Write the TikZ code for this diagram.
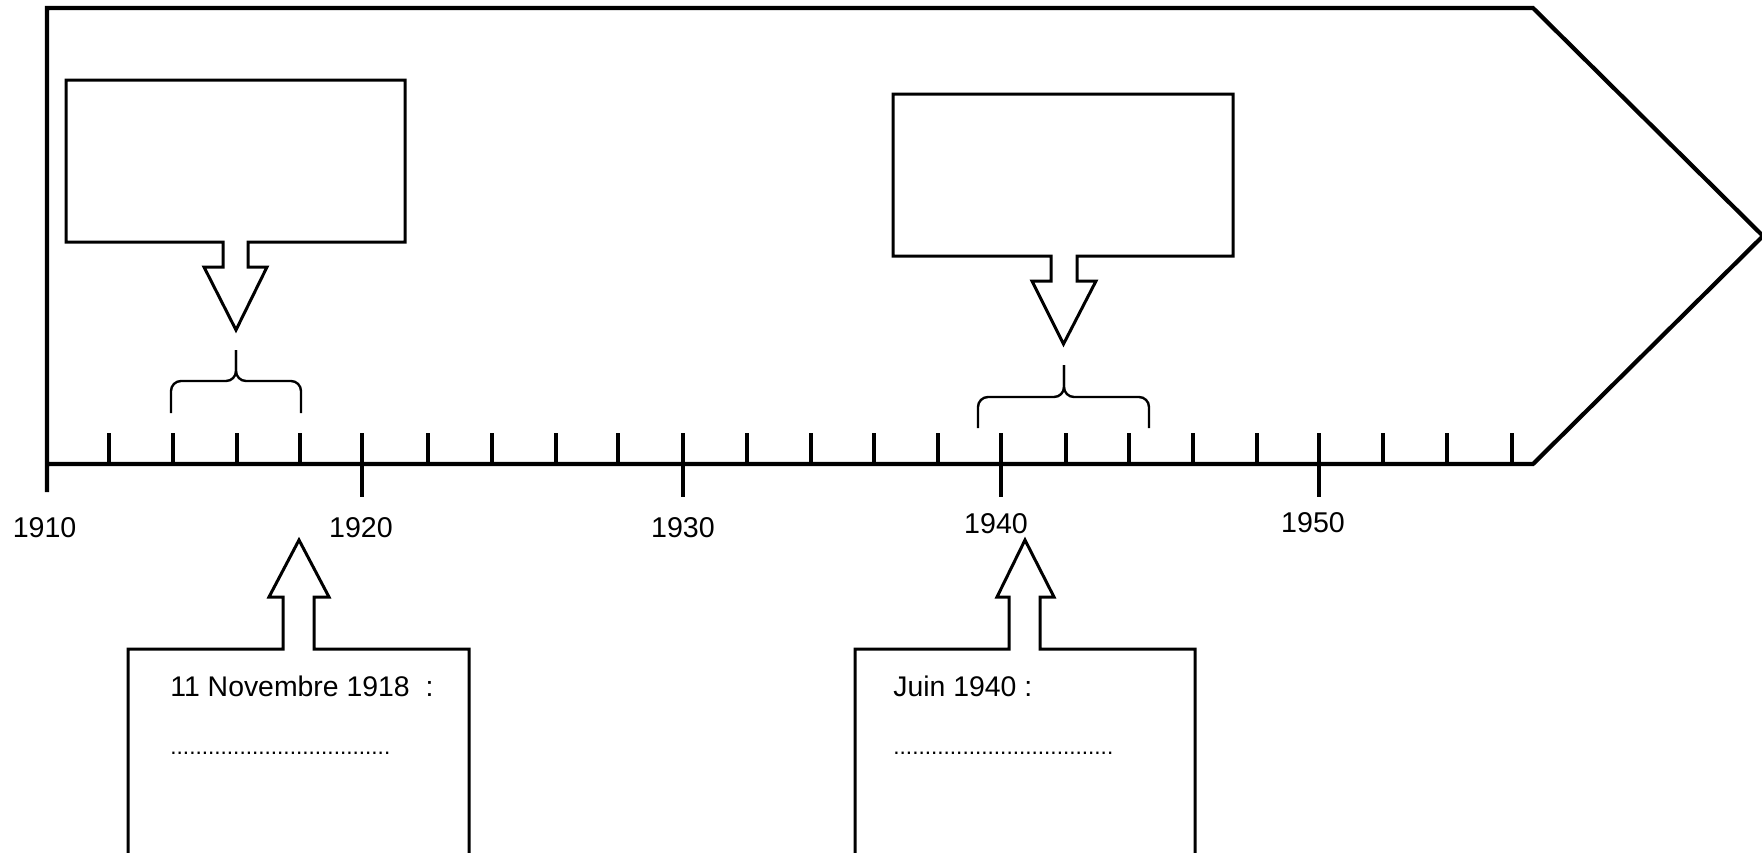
\documentclass[tikz,border=0pt]{standalone}
\usepackage{fontspec}
\setmainfont{Liberation Sans}
\begin{document}
\begin{tikzpicture}[x=0.5pt,y=-0.5pt,
  frame/.style={line width=2.1pt, line join=miter},
  tickmark/.style={line width=1.9pt},
  callout/.style={line width=1.5pt, line join=miter},
  bracestyle/.style={line width=1.2pt, rounded corners=5pt},
  yearlabel/.style={inner sep=0pt, anchor=base, font=\fontsize{14.3}{16}\selectfont},
  calltext/.style={inner sep=0pt, anchor=base west, font=\fontsize{14.2}{16}\selectfont},
  dotline/.style={inner sep=0pt, anchor=base west, font=\fontsize{11.3}{13}\selectfont}]
\useasboundingbox (0,0) rectangle (1762,852);
\clip (0,0) rectangle (1762,852);

% main timeline arrow
\draw[frame] (47,492) -- (47,8) -- (1533,8) -- (1763,236) -- (1533,464) -- (47,464);

% minor ticks
\foreach \x in {109,173,237,300,428,492,556,618,747,811,874,938,1066,1129,1193,1257,1383,1447,1512}
  \draw[tickmark] (\x,433) -- (\x,464);
% major ticks
\foreach \x in {362,683,1001,1319}
  \draw[tickmark] (\x,433) -- (\x,497);

% year labels
\node[yearlabel] (y1910) at (44.6,537) {1910};
\node[yearlabel] (y1920) at (361,537) {1920};
\node[yearlabel] (y1930) at (683,537) {1930};
\node[yearlabel] (y1940) at (996,533) {1940};
\node[yearlabel] (y1950) at (1313,532) {1950};

% top-left callout
\draw[callout] (66,80) -- (405,80) -- (405,242) -- (248,242) -- (248,267) -- (267,267)
  -- (236,330) -- (204,267) -- (223,267) -- (223,242) -- (66,242) -- cycle;
% top-right callout
\draw[callout] (893,94) -- (1233,94) -- (1233,256) -- (1077,256) -- (1077,281) -- (1096,281)
  -- (1063.5,344) -- (1032,281) -- (1051,281) -- (1051,256) -- (893,256) -- cycle;

% braces
\draw[bracestyle] (171,413) -- (171,381) -- (236,381) -- (236,350);
\draw[bracestyle] (301,413) -- (301,381) -- (236,381) -- (236,350);
\draw[bracestyle] (978,428) -- (978,397) -- (1064,397) -- (1064,365);
\draw[bracestyle] (1149,428) -- (1149,397) -- (1064,397) -- (1064,365);

% bottom-left callout
\draw[callout] (128,870) -- (128,649) -- (283,649) -- (283,597) -- (269,597) -- (299,540)
  -- (329,597) -- (314,597) -- (314,649) -- (469,649) -- (469,870);
% bottom-right callout
\draw[callout] (855,870) -- (855,649) -- (1009,649) -- (1009,597) -- (997,597) -- (1025,540)
  -- (1054,597) -- (1040,597) -- (1040,649) -- (1195,649) -- (1195,870);

% callout texts
\node[calltext] (t1918) at (170,696) {11 Novembre 1918~~:};
\node[dotline] (d1918) at (170,754) {...................................};
\node[calltext] (t1940) at (893,696) {Juin 1940 :};
\node[dotline] (d1940) at (893,754) {...................................};
\end{tikzpicture}
\end{document}
